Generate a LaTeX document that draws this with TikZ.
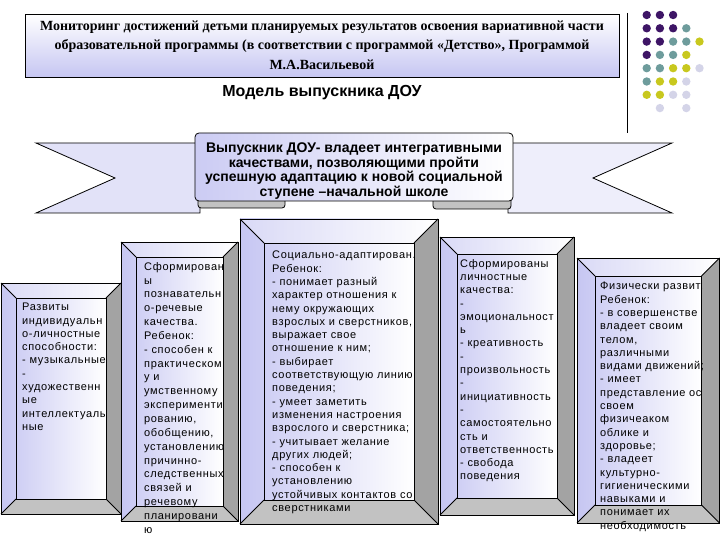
\documentclass[tikz,border=0pt]{standalone}
\usepackage{fontspec}
\setmainfont{Liberation Sans}
\newfontfamily\titlefont{Liberation Serif}
\newfontfamily\boxfont{Liberation Sans}[LetterSpace=6]
\usepackage{xcolor}
\usepackage{tikz}
\usetikzlibrary{calc}

\definecolor{lav}{HTML}{C6C6F2}
\definecolor{taillav}{HTML}{E2E2F8}
\definecolor{bevdark}{HTML}{A3A3A3}
\definecolor{bevlight}{HTML}{C2C2C2}
\definecolor{dotP}{HTML}{3E1566}
\definecolor{dotT}{HTML}{6E9C9C}
\definecolor{dotY}{HTML}{C8C81E}
\definecolor{dotL}{HTML}{D4D4E8}

\tikzset{
  outline/.style={draw=black, line width=0.8pt},
  boxtext/.style={anchor=north west, inner sep=0pt, align=left,
                  font=\boxfont\fontsize{11}{13.3}\selectfont},
}

% bevelled panel: #1,#2 top left, #3,#4 bottom right, #5 bevel
\newcommand{\bevbox}[5]{%
  \shade[left color=lav, right color=white] (#1,#2) rectangle (#3,#4);
  \fill[white, opacity=0.35] (#1,#2) -- (#3,#2) -- (#3-#5,#2+#5) -- (#1+#5,#2+#5) -- cycle;
  \fill[bevdark]  (#3,#2) -- (#3,#4) -- (#3-#5,#4-#5) -- (#3-#5,#2+#5) -- cycle;
  \fill[bevlight] (#1,#4) -- (#3,#4) -- (#3-#5,#4-#5) -- (#1+#5,#4-#5) -- cycle;
  \shade[left color=lav!85, right color=white] (#1+#5,#2+#5) rectangle (#3-#5,#4-#5);
  \draw[outline] (#1,#2) rectangle (#3,#4);
  \draw[outline] (#1+#5,#2+#5) rectangle (#3-#5,#4-#5);
  \draw[outline] (#1,#2) -- (#1+#5,#2+#5)  (#3,#2) -- (#3-#5,#2+#5)
                 (#1,#4) -- (#1+#5,#4-#5)  (#3,#4) -- (#3-#5,#4-#5);
}

\begin{document}
\begin{tikzpicture}[x=1pt, y=-1pt]

\useasboundingbox (0,0) rectangle (720,540);

% TITLE
  \shade[top color=white, bottom color=lav] (25,14) rectangle (619,77);
  \draw[outline] (25,14) rectangle (619,77);
  \node[font=\titlefont\bfseries\fontsize{14}{19.5}\selectfont, align=center] (title) at (322,45)
    {Мониторинг достижений детьми планируемых результатов освоения вариативной части\\
     образовательной программы (в соответствии с программой «Детство», Программой\\
     М.А.Васильевой};
  \draw[outline] (627,13) -- (627,133);

  \node[font=\bfseries\fontsize{16}{18}\selectfont] (model) at (322,93) {Модель выпускника ДОУ};

% BOXES
  \bevbox{1}{283}{121}{514}{15}
  \node[boxtext] (indiv) at (22,303)
    {Развиты\\индивидуальн\\о-личностные\\способности:\\- музыкальные\\-\\художественн\\ые\\интеллектуаль\\ные};

  \bevbox{121}{242}{238}{521}{15}
  \node[boxtext, font=\boxfont\fontsize{11}{13.85}\selectfont] (cogn) at (144,262)
    {Сформирован\\ы\\познавательн\\о-речевые\\качества.\\Ребенок:\\- способен к\\практическом\\у и\\умственному\\эксперименти\\рованию,\\обобщению,\\установлению\\причинно-\\следственных\\связей и\\речевому\\планировани\\ю};

  \bevbox{240}{219}{438}{524}{24}
  \node[boxtext] (social) at (272,251)
    {Социально-адаптирован.\\Ребенок:\\- понимает разный\\характер отношения к\\нему окружающих\\взрослых и сверстников,\\выражает свое\\отношение к ним;\\- выбирает\\соответствующую линию\\поведения;\\- умеет заметить\\изменения настроения\\взрослого и сверстника;\\- учитывает желание\\других людей;\\- способен к\\установлению\\устойчивых контактов со\\сверстниками};

  \bevbox{440}{237}{574}{515}{17}
  \node[boxtext] (person) at (460,259)
    {Сформированы\\личностные\\качества:\\-\\эмоциональност\\ь\\- креативность\\-\\произвольность\\-\\инициативность\\-\\самостоятельно\\сть и\\ответственность\\- свобода\\поведения};

  \bevbox{577}{258}{719.5}{523}{18}
  \node[boxtext] (phys) at (600,282)
    {Физически развит.\\Ребенок:\\- в совершенстве\\владеет своим\\телом,\\различными\\видами движений;\\- имеет\\представление ос\\своем\\физичеаком\\облике и\\здоровье;\\- владеет\\культурно-\\гигиеническими\\навыками и\\понимает их\\необходимость};

% DOTS
  \foreach \rw/\cl in {1/{dotP,dotP,dotP}, 2/{dotP,dotP,dotP,dotT}, 3/{dotP,dotP,dotT,dotT,dotY},
                       4/{dotP,dotT,dotT,dotY}, 5/{dotT,dotT,dotY,dotY,dotL}, 6/{dotT,dotY,dotY,dotL},
                       7/{dotY,dotY,dotL,dotL}, 8/{white,dotL,white,dotL}}
    {\foreach \dc [count=\cn] in \cl
      {\fill[\dc] (633.5+13.2*\cn, 1.7+13.3*\rw) circle (4.2pt);}}

% BANNER (drawn last)
  \filldraw[outline, fill=taillav]    (200,143) -- (36,143) -- (115,178) -- (36,213) -- (200,213) -- cycle;
  \filldraw[outline, fill=taillav!60] (508,143) -- (672,143) -- (593,178) -- (672,213) -- (508,213) -- cycle;
  \draw[outline, fill=bevlight, rounded corners=3pt] (285,200) -- (285,208) -- (198,208) -- (198,200);
  \draw[outline, fill=bevlight, rounded corners=3pt] (433,200) -- (433,209) -- (511,209) -- (511,200);
  \path[outline, left color=lav!90, right color=white, rounded corners=4pt]
    (195,201) -- (195,133) -- (513,133) -- (513,201) -- cycle;
  \node[font=\bfseries\fontsize{14}{14.7}\selectfont, align=center] (grad) at (354,171)
    {Выпускник ДОУ- владеет интегративными\\
     качествами, позволяющими пройти\\
     успешную адаптацию к новой социальной\\
     ступене –начальной школе};

\end{tikzpicture}
\end{document}
